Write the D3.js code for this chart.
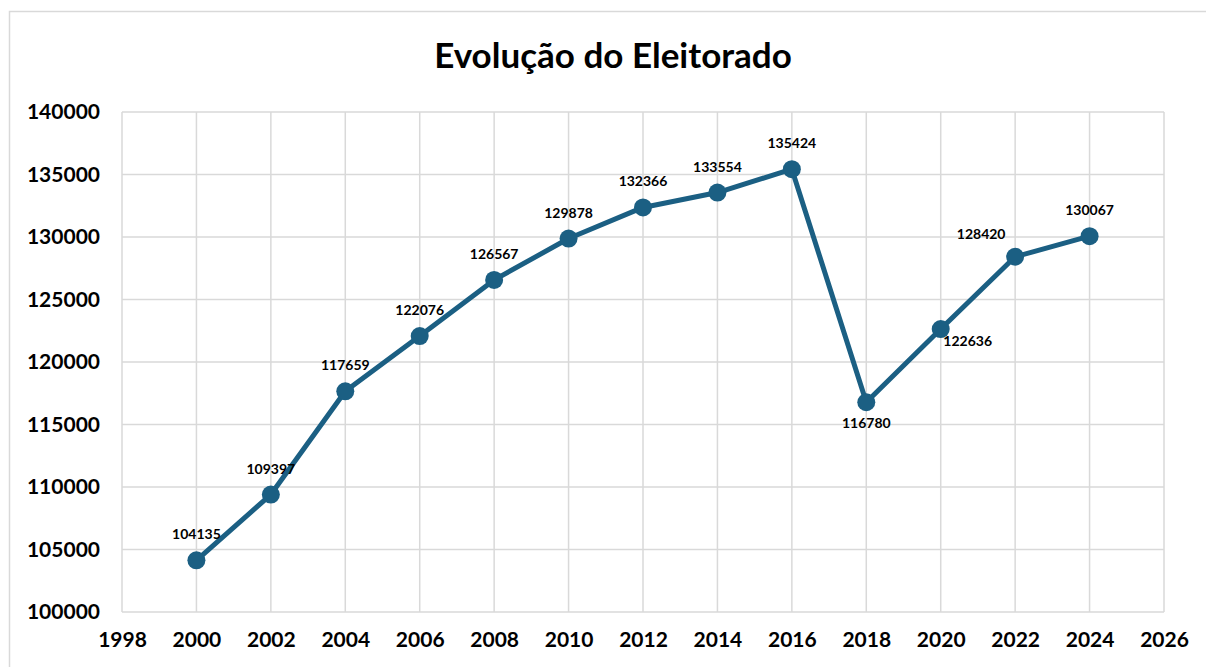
<!DOCTYPE html>
<html>
<head>
<meta charset="utf-8">
<script src="https://cdn.jsdelivr.net/npm/d3@7"></script>
<style>
  body { margin: 0; background: #fff; }
  text { font-family: Lato, "Open Sans", "Liberation Sans", sans-serif; font-weight: bold; }
</style>
</head>
<body>
<div id="chart"></div>
<script>
// data
var years = [2000, 2002, 2004, 2006, 2008, 2010, 2012, 2014, 2016, 2018, 2020, 2022, 2024];
var voters = [104135, 109397, 117659, 122076, 126567, 129878, 132366, 133554, 135424, 116780, 122636, 128420, 130067];
var labelPos = ["above", "above", "above", "above", "above", "above", "above", "above", "above", "below", "belowRight", "aboveLeft", "above"];
var xTicks = [1998, 2000, 2002, 2004, 2006, 2008, 2010, 2012, 2014, 2016, 2018, 2020, 2022, 2024, 2026];
var yTicks = [100000, 105000, 110000, 115000, 120000, 125000, 130000, 135000, 140000];

var W = 1206, H = 667;
var margin = {top: 112, right: 42, bottom: 55, left: 122},
    width = W - margin.left - margin.right,
    height = H - margin.top - margin.bottom;

var root = d3.select("#chart").append("svg")
    .attr("width", W)
    .attr("height", H);

// outer chart frame
root.append("rect")
    .attr("x", 9.5).attr("y", 11.5)
    .attr("width", 1220).attr("height", 700)
    .attr("fill", "none").attr("stroke", "#d9d9d9").attr("stroke-width", 1.5);

root.append("text")
    .attr("x", 613).attr("y", 68)
    .attr("text-anchor", "middle")
    .style("font-size", "35px")
    .text("Evolução do Eleitorado");

var svg = root.append("g")
    .attr("transform", "translate(" + margin.left + "," + margin.top + ")");

var x = d3.scaleLinear().domain([1998, 2026]).range([0, width]);
var y = d3.scaleLinear().domain([100000, 140000]).range([height, 0]);

// gridlines
svg.append("g")
  .selectAll("line.v")
  .data(xTicks)
  .enter().append("line")
    .attr("x1", function(d) { return x(d); })
    .attr("x2", function(d) { return x(d); })
    .attr("y1", 0).attr("y2", height)
    .attr("stroke", "#d9d9d9").attr("stroke-width", 1.5);

svg.append("g")
  .selectAll("line.h")
  .data(yTicks)
  .enter().append("line")
    .attr("x1", 0).attr("x2", width)
    .attr("y1", function(d) { return y(d); })
    .attr("y2", function(d) { return y(d); })
    .attr("stroke", "#d9d9d9").attr("stroke-width", 1.5);

// axes (labels only)
var xAxis = svg.append("g")
    .attr("transform", "translate(0," + height + ")")
    .call(d3.axisBottom(x).tickValues(xTicks).tickFormat(d3.format("d")).tickSize(0).tickPadding(20));
xAxis.select(".domain").remove();
xAxis.selectAll("text").style("font-size", "21px").attr("fill", "#000").attr("font-family", null);

var yAxis = svg.append("g")
    .call(d3.axisLeft(y).tickValues(yTicks).tickFormat(d3.format("d")).tickSize(0).tickPadding(22));
yAxis.select(".domain").remove();
yAxis.selectAll("text").style("font-size", "21px").attr("fill", "#000").attr("font-family", null);

var pts = years.map(function(yr, i) { return {year: yr, value: voters[i], pos: labelPos[i]}; });

var color = "#1b5f83";

svg.append("path")
    .datum(pts)
    .attr("fill", "none")
    .attr("stroke", color)
    .attr("stroke-width", 5)
    .attr("stroke-linejoin", "round")
    .attr("d", d3.line().x(function(d) { return x(d.year); }).y(function(d) { return y(d.value); }));

svg.selectAll("circle")
    .data(pts)
  .enter().append("circle")
    .attr("cx", function(d) { return x(d.year); })
    .attr("cy", function(d) { return y(d.value); })
    .attr("r", 9)
    .attr("fill", color);

var offsets = {
  above: [0, -21],
  below: [0, 26],
  belowRight: [27, 17],
  aboveLeft: [-34, -18]
};

svg.selectAll("text.lbl")
    .data(pts)
  .enter().append("text")
    .attr("class", "lbl")
    .attr("x", function(d) { return x(d.year) + offsets[d.pos][0]; })
    .attr("y", function(d) { return y(d.value) + offsets[d.pos][1]; })
    .attr("text-anchor", "middle")
    .style("font-size", "14px")
    .text(function(d) { return d.value; });
</script>
</body>
</html>
